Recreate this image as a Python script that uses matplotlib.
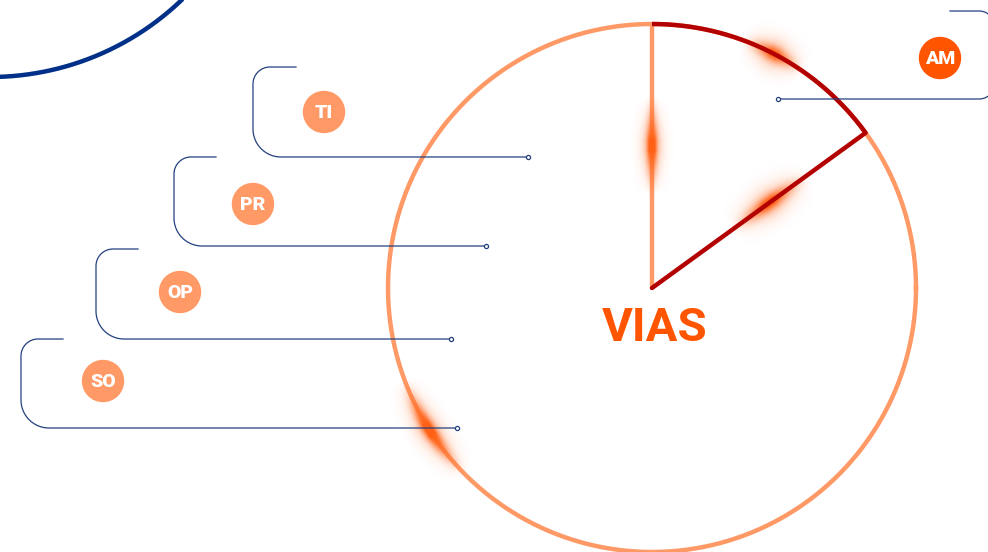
import matplotlib.pyplot as plt
import numpy as np

# badge labels, left brackets from top to bottom
labels = ['TI', 'PR', 'OP', 'SO']
# bracket geometry in pixels: left x, top y, top end x, bottom y, end x
bracket_left = [253, 174, 96, 21]
bracket_top = [67, 157, 249, 339]
bracket_top_end = [296, 216, 138, 63]
bracket_bottom = [157, 246, 339, 428]
bracket_end = [528, 486, 451, 457]
badge_xy = [(324, 112), (253, 204), (180, 292), (103, 381)]

center_label = 'VIAS'
right_label = 'AM'
# highlighted sector of the wheel, degrees (counter-clockwise from east)
sector = (36, 90)

W, H = 988, 552
NAVY = '#23407f'
LIGHT = '#ff9966'
ORANGE = '#ff5500'
DARK = '#b30000'

cx, cy, R = 652, 288, 264

fig = plt.figure(figsize=(W / 100, H / 100), dpi=100)
ax = fig.add_axes([0, 0, 1, 1])
ax.set_xlim(0, W)
ax.set_ylim(H, 0)
ax.axis('off')


def arc_pts(x0, y0, r, a0, a1, n=200):
    # angles in degrees, y grows downwards
    t = np.radians(np.linspace(a0, a1, n))
    return x0 + r * np.cos(t), y0 - r * np.sin(t)


# big blue arc in the top-left corner
bx, by = arc_pts(-10, -200, 277, 200, 360)
ax.plot(bx, by, color='#003087', lw=3.2, solid_capstyle='butt')

# the wheel
x, y = arc_pts(cx, cy, R, 0, 360, 600)
ax.plot(x, y, color=LIGHT, lw=3.2)
ax.plot([cx, cx], [cy, cy - R], color=LIGHT, lw=3.2, solid_capstyle='butt')

# glow spots
yy, xx = np.mgrid[0:H, 0:W] + 0.5
alpha = np.zeros((H, W))


def taper(s, s0, s1, edge):
    a = np.clip((s - s0) / edge, 0, 1)
    b = np.clip((s1 - s) / edge, 0, 1)
    return np.minimum(a, b) ** 1.3


def glow(d, tp, strength, sig):
    core = strength * np.exp(-(d / sig) ** 2)
    halo = 0.35 * np.exp(-(d / (sig * 2.2)) ** 2)
    return np.clip(core + halo, 0, 1) * tp


def add_arc_glow(a0, a1, strength=0.9, sig=6.0):
    global alpha
    d = np.hypot(xx - cx, yy - cy) - R
    ang = np.degrees(np.arctan2(cy - yy, xx - cx)) % 360
    g = glow(d, taper(ang, a0, a1, (a1 - a0) * 0.45), strength, sig)
    alpha = np.maximum(alpha, g)


def add_line_glow(p0, p1, t0, t1, strength=0.9, sig=6.0):
    global alpha
    p0 = np.array(p0, float)
    p1 = np.array(p1, float)
    v = p1 - p0
    L = np.hypot(*v)
    u = v / L
    s = ((xx - p0[0]) * u[0] + (yy - p0[1]) * u[1]) / L
    d = (xx - p0[0]) * -u[1] + (yy - p0[1]) * u[0]
    g = glow(d, taper(s, t0, t1, (t1 - t0) * 0.45), strength, sig)
    alpha = np.maximum(alpha, g)


ex, ey = arc_pts(cx, cy, R, sector[0], sector[0], 1)
edge = (ex[0], ey[0])

add_arc_glow(55, 70, 0.7, 7)
add_arc_glow(200, 225, 0.9, 6)
add_line_glow((cx, cy), (cx, cy - R), 0.35, 0.73, 0.9, 5)
add_line_glow((cx, cy), edge, 0.37, 0.73, 0.75, 7)

img = np.zeros((H, W, 4))
img[..., 0] = 1.0
img[..., 1] = 0.38
img[..., 2] = 0.08
img[..., 3] = alpha
ax.imshow(img, extent=[0, W, H, 0], zorder=3, interpolation='bilinear')

# highlighted sector on top
x, y = arc_pts(cx, cy, R, sector[0], sector[1])
ax.plot(x, y, color=DARK, lw=3.2, zorder=4, solid_capstyle='butt')
ax.plot([cx, edge[0]], [cy, edge[1]], color=DARK, lw=3.2, zorder=4,
        solid_capstyle='round')

ax.text(cx + 3, 328, center_label, color=ORANGE, fontsize=34, fontweight='bold',
        family='Roboto', ha='center', va='center', zorder=5)


def bracket(left, top, top_end, bottom, end, r1=17, r2=28):
    px = [top_end, left + r1]
    py = [top, top]
    ax1, ay1 = arc_pts(left + r1, top + r1, r1, 90, 180, 30)
    ax2, ay2 = arc_pts(left + r2, bottom - r2, r2, 180, 270, 30)
    px = px + list(ax1) + list(ax2) + [end]
    py = py + list(ay1) + list(ay2) + [bottom]
    ax.plot(px, py, color=NAVY, lw=0.9, zorder=6)
    ax.plot(end, bottom, 'o', ms=3, mfc='white', mec=NAVY, mew=0.9, zorder=7)


for i, lab in enumerate(labels):
    bracket(bracket_left[i], bracket_top[i], bracket_top_end[i],
            bracket_bottom[i], bracket_end[i])
    bxy = badge_xy[i]
    ax.add_patch(plt.Circle(bxy, 20.5, color=LIGHT, zorder=6))
    ax.text(bxy[0], bxy[1] + 1, lab, color='white', fontsize=14,
            fontweight='black', family='Roboto', ha='center', va='center', zorder=7)

# right bracket (mirrored, runs off the edge)
right, rr = 995, 16
px = [950, right - rr]
py = [11, 11]
a1x, a1y = arc_pts(right - rr, 11 + rr, rr, 90, 0, 30)
a2x, a2y = arc_pts(right - rr, 99 - rr, rr, 0, -90, 30)
px = px + list(a1x) + list(a2x) + [778]
py = py + list(a1y) + list(a2y) + [99]
ax.plot(px, py, color=NAVY, lw=0.9, zorder=6)
ax.plot(778, 99, 'o', ms=3, mfc='white', mec=NAVY, mew=0.9, zorder=7)
ax.add_patch(plt.Circle((940, 58), 20.5, color=ORANGE, zorder=6))
ax.text(940, 59, right_label, color='white', fontsize=14, fontweight='black',
        family='Roboto', ha='center', va='center', zorder=7)

fig.savefig('out.png', dpi=100, facecolor='white')
